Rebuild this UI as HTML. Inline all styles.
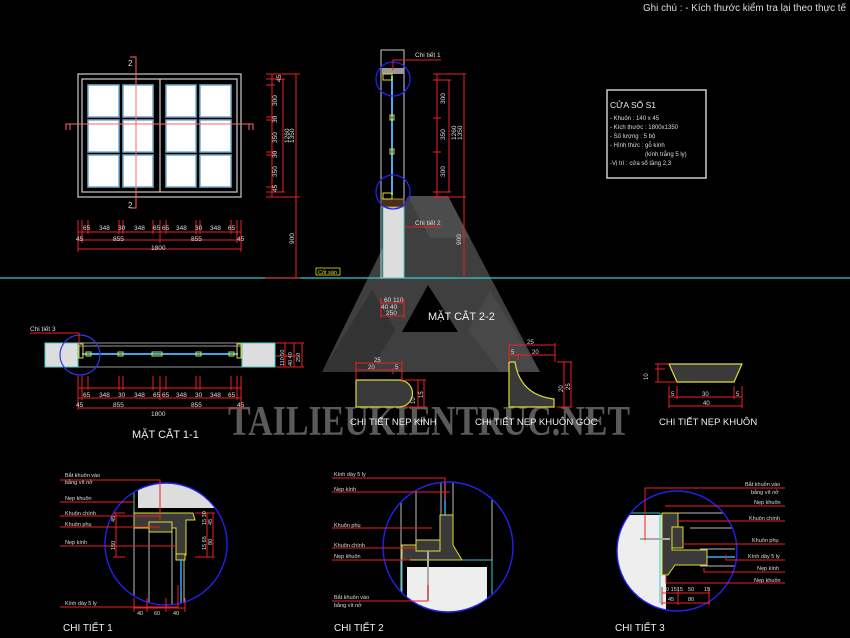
<!DOCTYPE html>
<html><head><meta charset="utf-8"><style>
html,body{margin:0;padding:0;background:#000;}
svg{display:block;font-family:"Liberation Sans",sans-serif;}
</style></head><body>
<svg width="850" height="638" viewBox="0 0 850 638" xmlns="http://www.w3.org/2000/svg">
<rect width="850" height="638" fill="#000"/>

<!-- watermark logo -->
<g opacity="0.85">
<polygon points="408,196 448,196 540,372 322,372" fill="#4a4a4a"/>
<polygon points="408,196 448,196 470,238 430,238" fill="#5a5a5a"/>
<polygon points="322,372 372,290 395,330 370,372" fill="#3c3c3c"/>
<polygon points="490,290 540,372 500,372 468,330" fill="#555"/>
<polygon points="428,285 402,332 458,332" fill="#000"/>
</g>
<text x="228" y="435" style="font-family:'Liberation Serif',serif;font-weight:bold" font-size="42" fill="#5a5a5a" textLength="402" lengthAdjust="spacingAndGlyphs">TAILIEUKIENTRUC.NET</text>

<!-- note -->
<text x="643" y="11" font-size="10" fill="#ddd" textLength="203" lengthAdjust="spacingAndGlyphs">Ghi chú : - Kích thước kiểm tra lại theo thực tế</text>

<!-- ground line -->
<line x1="0" y1="278" x2="850" y2="278" stroke="#3cc" stroke-width="1.2"/>

<!-- ELEVATION -->
<g fill="none" stroke="#ccc" stroke-width="1.2">
<rect x="78" y="74" width="163" height="123"/>
<rect x="82" y="79" width="155" height="113"/>
<line x1="160" y1="79" x2="160" y2="192"/>
</g>
<g fill="#fff" stroke="#7ac" stroke-width="1.5">
<rect x="88" y="85" width="31" height="32"/><rect x="123" y="85" width="30" height="32"/>
<rect x="88" y="120" width="31" height="32"/><rect x="123" y="120" width="30" height="32"/>
<rect x="88" y="155" width="31" height="32"/><rect x="123" y="155" width="30" height="32"/>
<rect x="166" y="85" width="30" height="32"/><rect x="200" y="85" width="31" height="32"/>
<rect x="166" y="120" width="30" height="32"/><rect x="200" y="120" width="31" height="32"/>
<rect x="166" y="155" width="30" height="32"/><rect x="200" y="155" width="31" height="32"/>
</g>
<g stroke="#f66" stroke-width="1" fill="none">
<line x1="66" y1="124" x2="253" y2="124"/>
<polyline points="66,130 66,124 70,124 70,130"/><polyline points="253,130 253,124 249,124 249,130"/>
<line x1="136" y1="57" x2="136" y2="208"/>
<polyline points="130,57 136,57 136,63"/><polyline points="130,208 136,208 136,202"/>
</g>
<text x="128" y="66" font-size="8" fill="#ddd">2</text>
<text x="128" y="208" font-size="8" fill="#ddd">2</text>
<g stroke="#e22" stroke-width="1">
<line x1="78" y1="232" x2="241" y2="232"/><line x1="78" y1="240" x2="241" y2="240"/><line x1="78" y1="249" x2="241" y2="249"/>
<line x1="78" y1="220" x2="78" y2="252"/><line x1="82" y1="220" x2="82" y2="243"/><line x1="88" y1="220" x2="88" y2="234"/>
<line x1="119" y1="220" x2="119" y2="234"/><line x1="123" y1="220" x2="123" y2="234"/><line x1="153" y1="220" x2="153" y2="234"/>
<line x1="160" y1="220" x2="160" y2="243"/><line x1="166" y1="220" x2="166" y2="234"/><line x1="196" y1="220" x2="196" y2="234"/>
<line x1="200" y1="220" x2="200" y2="234"/><line x1="231" y1="220" x2="231" y2="234"/><line x1="237" y1="220" x2="237" y2="243"/><line x1="241" y1="220" x2="241" y2="252"/>
</g>
<g font-size="6.5" fill="#ddd">
<text x="83" y="230">65</text><text x="99" y="230">348</text><text x="118" y="230">30</text><text x="134" y="230">348</text><text x="153" y="230">65</text><text x="162" y="230">65</text><text x="176" y="230">348</text><text x="195" y="230">30</text><text x="210" y="230">348</text><text x="228" y="230">65</text>
<text x="76" y="241">45</text><text x="113" y="241">855</text><text x="191" y="241">855</text><text x="237" y="241">45</text>
<text x="151" y="250">1800</text>
</g>
<g stroke="#e22" stroke-width="1">
<line x1="266" y1="74" x2="300" y2="74"/><line x1="266" y1="79" x2="285" y2="79"/><line x1="266" y1="85" x2="275" y2="85"/>
<line x1="266" y1="117" x2="275" y2="117"/><line x1="266" y1="120" x2="275" y2="120"/><line x1="266" y1="152" x2="275" y2="152"/><line x1="266" y1="155" x2="275" y2="155"/>
<line x1="266" y1="187" x2="275" y2="187"/><line x1="266" y1="192" x2="285" y2="192"/><line x1="266" y1="197" x2="300" y2="197"/>
<line x1="272" y1="74" x2="272" y2="197"/><line x1="283" y1="79" x2="283" y2="192"/><line x1="296" y1="74" x2="296" y2="278"/>
<line x1="265" y1="278" x2="300" y2="278"/>
</g>
<g font-size="6.5" fill="#ddd">
<text transform="translate(281,82) rotate(-90)">45</text><text transform="translate(277,106) rotate(-90)">300</text><text transform="translate(277,123) rotate(-90)">30</text>
<text transform="translate(277,143) rotate(-90)">350</text><text transform="translate(277,158) rotate(-90)">30</text><text transform="translate(277,177) rotate(-90)">350</text>
<text transform="translate(277,192) rotate(-90)">45</text><text transform="translate(289,143) rotate(-90)">1260</text><text transform="translate(294,143) rotate(-90)">1350</text>
<text transform="translate(294,244) rotate(-90)">900</text>
</g>
<rect x="316" y="268" width="24" height="7" fill="none" stroke="#dd3" stroke-width="0.8"/>
<text x="318" y="274" font-size="5.5" fill="#dd3">Cốt sàn</text>

<!-- SECTION 2-2 -->
<rect x="381" y="50" width="23" height="228" fill="none" stroke="#ccc" stroke-width="1"/>
<rect x="383" y="207" width="21" height="71" fill="#ddd" stroke="#5cc"/>
<rect x="381" y="199" width="23" height="8" fill="#4a2e1a" stroke="#a84"/>
<rect x="382" y="68" width="22" height="6" fill="#999"/>
<line x1="392" y1="76" x2="392" y2="195" stroke="#5ae" stroke-width="2"/>
<g fill="none" stroke="#dd3" stroke-width="1">
<rect x="383" y="74" width="9" height="6"/><rect x="383" y="193" width="9" height="6"/><rect x="390" y="115" width="4" height="5"/><rect x="390" y="149" width="4" height="5"/>
</g>
<circle cx="393" cy="79" r="17" fill="none" stroke="#22e" stroke-width="1.3"/>
<circle cx="393" cy="192" r="17" fill="none" stroke="#22e" stroke-width="1.3"/>
<polyline points="393,70 393,60 441,60" fill="none" stroke="#e22"/>
<line x1="405" y1="227" x2="441" y2="227" stroke="#e22"/>
<text x="415" y="57" font-size="6.5" fill="#ddd">Chi tiết 1</text>
<text x="415" y="225" font-size="6.5" fill="#ddd">Chi tiết 2</text>
<g stroke="#e22" stroke-width="1">
<line x1="433" y1="74" x2="466" y2="74"/><line x1="433" y1="197" x2="466" y2="197"/><line x1="433" y1="80" x2="451" y2="80"/><line x1="433" y1="192" x2="451" y2="192"/>
<line x1="433" y1="118" x2="441" y2="118"/><line x1="433" y1="152" x2="441" y2="152"/>
<line x1="437" y1="74" x2="437" y2="197"/><line x1="449" y1="80" x2="449" y2="192"/><line x1="464" y1="74" x2="464" y2="278"/>
<line x1="381" y1="298" x2="381" y2="318"/><line x1="404" y1="298" x2="404" y2="318"/><line x1="381" y1="316" x2="404" y2="316"/><line x1="381" y1="303" x2="404" y2="303"/>
</g>
<g font-size="6.5" fill="#ddd">
<text transform="translate(445,104) rotate(-90)">300</text><text transform="translate(445,140) rotate(-90)">350</text><text transform="translate(445,177) rotate(-90)">300</text>
<text transform="translate(456,140) rotate(-90)">1260</text><text transform="translate(462,140) rotate(-90)">1350</text><text transform="translate(461,245) rotate(-90)">900</text>
<text x="384" y="302">60 110</text><text x="381" y="309">40 40</text><text x="386" y="315">250</text>
</g>
<text x="428" y="320" font-size="11" fill="#eee">MẶT CẮT 2-2</text>

<!-- info box -->
<rect x="607" y="90" width="99" height="88" fill="none" stroke="#ccc" stroke-width="1.5"/>
<text x="610" y="108" font-size="8.5" fill="#eee">CỬA SỔ S1</text>
<g font-size="6" fill="#ddd">
<text x="610" y="120">- Khuôn : 140 x 45</text><text x="610" y="129">- Kích thước : 1800x1350</text><text x="610" y="138">- Số lượng : 5 bộ</text>
<text x="610" y="147">- Hình thức : gỗ kính</text><text x="645" y="156">(kính trắng 5 ly)</text><text x="610" y="165">-Vị trí : cửa sổ tầng 2,3</text>
</g>

<!-- SECTION 1-1 -->
<rect x="45" y="343" width="33" height="24" fill="#ddd" stroke="#5cc"/>
<rect x="242" y="343" width="33" height="24" fill="#ddd" stroke="#5cc"/>
<g stroke="#ccc" stroke-width="0.8"><line x1="78" y1="343" x2="242" y2="343"/><line x1="78" y1="346" x2="242" y2="346"/><line x1="78" y1="367" x2="242" y2="367"/></g>
<line x1="82" y1="354" x2="238" y2="354" stroke="#3ae" stroke-width="2"/>
<g fill="none" stroke="#dd3"><rect x="79" y="344" width="4" height="14"/><rect x="237" y="344" width="4" height="14"/><rect x="86" y="352" width="5" height="4"/><rect x="118" y="352" width="5" height="4"/><rect x="152" y="352" width="10" height="4"/><rect x="196" y="352" width="5" height="4"/><rect x="229" y="352" width="5" height="4"/></g>
<circle cx="80" cy="355" r="20" fill="none" stroke="#33e" stroke-width="1.2"/>
<polyline points="30,333 79,333 79,345" fill="none" stroke="#e22"/>
<text x="30" y="331" font-size="6.5" fill="#ddd">Chi tiết 3</text>
<g stroke="#e22"><line x1="276" y1="343" x2="304" y2="343"/><line x1="276" y1="367" x2="304" y2="367"/><line x1="276" y1="356" x2="296" y2="356"/><line x1="285" y1="343" x2="285" y2="367"/><line x1="294" y1="343" x2="294" y2="367"/><line x1="302" y1="343" x2="302" y2="367"/></g>
<g font-size="5.5" fill="#ddd"><text transform="translate(284,366) rotate(-90)">110 50</text><text transform="translate(292,366) rotate(-90)">40 40</text><text transform="translate(300,362) rotate(-90)">250</text></g>
<g stroke="#e22" stroke-width="1">
<line x1="78" y1="388" x2="241" y2="388"/><line x1="78" y1="398" x2="241" y2="398"/><line x1="78" y1="408" x2="241" y2="408"/>
<line x1="78" y1="376" x2="78" y2="410"/><line x1="82" y1="376" x2="82" y2="400"/><line x1="88" y1="376" x2="88" y2="390"/><line x1="119" y1="376" x2="119" y2="390"/><line x1="123" y1="376" x2="123" y2="390"/><line x1="153" y1="376" x2="153" y2="390"/><line x1="160" y1="376" x2="160" y2="400"/><line x1="166" y1="376" x2="166" y2="390"/><line x1="196" y1="376" x2="196" y2="390"/><line x1="200" y1="376" x2="200" y2="390"/><line x1="231" y1="376" x2="231" y2="390"/><line x1="237" y1="376" x2="237" y2="400"/><line x1="241" y1="376" x2="241" y2="410"/>
</g>
<g font-size="6.5" fill="#ddd">
<text x="83" y="397">65</text><text x="99" y="397">348</text><text x="118" y="397">30</text><text x="134" y="397">348</text><text x="153" y="397">65</text><text x="162" y="397">65</text><text x="176" y="397">348</text><text x="195" y="397">30</text><text x="210" y="397">348</text><text x="228" y="397">65</text>
<text x="76" y="407">45</text><text x="113" y="407">855</text><text x="191" y="407">855</text><text x="237" y="407">45</text><text x="151" y="416">1800</text>
</g>
<text x="132" y="438" font-size="11" fill="#eee">MẶT CẮT 1-1</text>

<!-- profile details -->
<path d="M356,380 H399 A8,8 0 0 1 399,407 H356 Z" fill="#3a3a3a" stroke="#dd3" stroke-width="1.2"/>
<g stroke="#e22"><line x1="356" y1="363" x2="402" y2="363"/><line x1="356" y1="370" x2="402" y2="370"/><line x1="356" y1="361" x2="356" y2="380"/><line x1="402" y1="361" x2="402" y2="383"/><line x1="393" y1="368" x2="393" y2="374"/>
<line x1="405" y1="380" x2="426" y2="380"/><line x1="405" y1="407" x2="426" y2="407"/><line x1="418" y1="380" x2="418" y2="407"/><line x1="424" y1="380" x2="424" y2="407"/></g>
<g font-size="6" fill="#ddd"><text x="374" y="362">25</text><text x="368" y="369">20</text><text x="395" y="369">5</text><text transform="translate(415,404) rotate(-90)">10</text><text transform="translate(423,398) rotate(-90)">15</text></g>
<text x="350" y="425" font-size="9.5" fill="#eee">CHI TIẾT NẸP KÍNH</text>
<path d="M509,362 H515 Q520,395 554,399 V407 H509 Z" fill="#3a3a3a" stroke="#dd3" stroke-width="1.2"/>
<g stroke="#e22"><line x1="509" y1="345" x2="555" y2="345"/><line x1="509" y1="355" x2="555" y2="355"/><line x1="509" y1="343" x2="509" y2="362"/><line x1="555" y1="343" x2="555" y2="362"/><line x1="518" y1="353" x2="518" y2="360"/>
<line x1="557" y1="362" x2="572" y2="362"/><line x1="557" y1="407" x2="572" y2="407"/><line x1="564" y1="362" x2="564" y2="407"/><line x1="571" y1="362" x2="571" y2="407"/></g>
<g font-size="6" fill="#ddd"><text x="527" y="344">25</text><text x="511" y="354">5</text><text x="532" y="354">20</text><text transform="translate(563,392) rotate(-90)">20</text><text transform="translate(570,390) rotate(-90)">25</text></g>
<text x="475" y="425" font-size="9.5" fill="#eee">CHI TIẾT NẸP KHUÔN GÓC</text>
<polygon points="669,364 742,364 734,382 677,382" fill="#3a3a3a" stroke="#dd3" stroke-width="1.2"/>
<g stroke="#e22"><line x1="655" y1="364" x2="669" y2="364"/><line x1="655" y1="382" x2="677" y2="382"/><line x1="655" y1="369" x2="665" y2="369"/><line x1="658" y1="364" x2="658" y2="382"/>
<line x1="669" y1="397" x2="742" y2="397"/><line x1="669" y1="406" x2="742" y2="406"/><line x1="669" y1="386" x2="669" y2="408"/><line x1="742" y1="386" x2="742" y2="408"/><line x1="677" y1="386" x2="677" y2="399"/><line x1="734" y1="386" x2="734" y2="399"/></g>
<g font-size="6" fill="#ddd"><text transform="translate(648,380) rotate(-90)">10</text><text x="671" y="396">5</text><text x="702" y="396">30</text><text x="736" y="396">5</text><text x="703" y="405">40</text></g>
<text x="659" y="425" font-size="9.5" fill="#eee">CHI TIẾT NẸP KHUÔN</text>

<!-- CHI TIET 1 -->
<defs><clipPath id="c1"><circle cx="166" cy="544" r="61"/></clipPath><clipPath id="c2"><circle cx="448" cy="547" r="65"/></clipPath><clipPath id="c3"><circle cx="677" cy="551" r="60"/></clipPath></defs>
<g clip-path="url(#c1)">
<rect x="138" y="478" width="100" height="30" fill="#ddd"/>
<g stroke="#bbb" stroke-width="1"><line x1="134" y1="510" x2="134" y2="610"/><line x1="149" y1="530" x2="149" y2="610"/><line x1="172" y1="530" x2="172" y2="610"/><line x1="184" y1="560" x2="184" y2="610"/></g>
<line x1="134" y1="490" x2="134" y2="510" stroke="#3cc"/>
<path d="M134,513 H193 L195,520 H186 L186,555 H176 L176,528 H134 Z" fill="#3a3a3a" stroke="#dd3"/>
<rect x="149" y="522" width="23" height="10" fill="#3a3a3a" stroke="#dd3"/>
<rect x="176" y="554" width="9" height="6" fill="#3a3a3a" stroke="#dd3"/>
<line x1="181" y1="560" x2="181" y2="610" stroke="#3ae" stroke-width="1.5"/>
</g>
<circle cx="166" cy="544" r="61" fill="none" stroke="#22e" stroke-width="1.4"/>
<g stroke="#e22" fill="none"><polyline points="60,480 160,480 160,520"/><line x1="60" y1="502" x2="135" y2="502"/><line x1="60" y1="516" x2="160" y2="516"/><line x1="60" y1="527" x2="160" y2="527"/><line x1="60" y1="546" x2="178" y2="546"/><polyline points="60,607 178,607 178,585"/>
<line x1="113" y1="513" x2="125" y2="513"/><line x1="113" y1="557" x2="125" y2="557"/><line x1="116" y1="513" x2="116" y2="557"/>
<line x1="195" y1="513" x2="215" y2="513"/><line x1="195" y1="557" x2="215" y2="557"/><line x1="207" y1="513" x2="207" y2="557"/><line x1="213" y1="513" x2="213" y2="557"/>
<line x1="134" y1="608" x2="185" y2="608"/><line x1="134" y1="598" x2="134" y2="612"/><line x1="147" y1="598" x2="147" y2="612"/><line x1="166" y1="598" x2="166" y2="612"/><line x1="185" y1="598" x2="185" y2="612"/></g>
<g font-size="5.5" fill="#ddd"><text x="65" y="477">Bắt khuôn vào</text><text x="65" y="484">bằng vít nở</text><text x="65" y="500">Nẹp khuôn</text><text x="65" y="515">Khuôn chính</text><text x="65" y="526">Khuôn phụ</text><text x="65" y="544">Nẹp kính</text><text x="65" y="605">Kính dày 5 ly</text>
<text x="137" y="615">40</text><text x="154" y="615">60</text><text x="173" y="615">40</text>
<text transform="translate(115,522) rotate(-90)">45</text><text transform="translate(115,550) rotate(-90)">150</text><text transform="translate(206,525) rotate(-90)">15 30</text><text transform="translate(206,550) rotate(-90)">15 65</text><text transform="translate(212,525) rotate(-90)">45</text><text transform="translate(212,545) rotate(-90)">80</text></g>
<text x="63" y="631" font-size="10" fill="#eee">CHI TIẾT 1</text>

<!-- CHI TIET 2 -->
<g clip-path="url(#c2)">
<rect x="407" y="567" width="80" height="50" fill="#eee"/>
<g stroke="#bbb"><line x1="401" y1="480" x2="401" y2="600"/><line x1="416" y1="480" x2="416" y2="540"/><line x1="441" y1="480" x2="441" y2="520"/><line x1="453" y1="480" x2="453" y2="520"/><line x1="492" y1="480" x2="492" y2="600"/></g>
<line x1="445" y1="480" x2="445" y2="520" stroke="#3ae" stroke-width="1.5"/>
<path d="M402,545 H440 V515 H453 V545 L462,560 H402 Z" fill="#3a3a3a" stroke="#dd3"/>
<rect x="416" y="540" width="24" height="11" fill="#3a3a3a" stroke="#dd3"/>
<line x1="428" y1="551" x2="428" y2="600" stroke="#aaa" stroke-width="2"/>
<line x1="402" y1="560" x2="402" y2="600" stroke="#3cc"/><line x1="492" y1="560" x2="492" y2="600" stroke="#3cc"/><line x1="462" y1="560" x2="492" y2="560" stroke="#3cc"/>
</g>
<circle cx="448" cy="547" r="65" fill="none" stroke="#22e" stroke-width="1.4"/>
<g stroke="#e22" fill="none"><polyline points="332,478 445,478 445,500"/><line x1="332" y1="492" x2="450" y2="492"/><line x1="332" y1="528" x2="432" y2="528"/><line x1="332" y1="548" x2="415" y2="548"/><line x1="332" y1="560" x2="410" y2="560"/><polyline points="332,601 428,601 428,585"/></g>
<g font-size="5.5" fill="#ddd"><text x="334" y="476">Kính dày 5 ly</text><text x="334" y="491">Nẹp kính</text><text x="334" y="527">Khuôn phụ</text><text x="334" y="547">Khuôn chính</text><text x="334" y="558">Nẹp khuôn</text><text x="334" y="599">Bắt khuôn vào</text><text x="334" y="607">bằng vít nở</text></g>
<text x="334" y="631" font-size="10" fill="#eee">CHI TIẾT 2</text>

<!-- CHI TIET 3 -->
<g clip-path="url(#c3)">
<rect x="610" y="515" width="56" height="122" fill="#eee"/>
<g stroke="#bbb"><line x1="678" y1="513" x2="735" y2="513"/><line x1="690" y1="528" x2="735" y2="528"/><line x1="700" y1="549" x2="735" y2="549"/><line x1="700" y1="566" x2="735" y2="566"/><line x1="660" y1="603" x2="735" y2="603"/></g>
<line x1="700" y1="557" x2="735" y2="557" stroke="#3ae" stroke-width="1.5"/>
<line x1="610" y1="513" x2="660" y2="513" stroke="#3cc"/><line x1="660" y1="513" x2="660" y2="603" stroke="#3cc"/>
<path d="M662,513 H678 V527 H672 V550 H707 V565 H675 L668,575 H662 Z" fill="#3a3a3a" stroke="#dd3"/>
<rect x="672" y="527" width="11" height="21" fill="#3a3a3a" stroke="#dd3"/>
<line x1="640" y1="539" x2="670" y2="539" stroke="#aaa" stroke-width="2"/>
</g>
<circle cx="677" cy="551" r="60" fill="none" stroke="#22e" stroke-width="1.4"/>
<g stroke="#e22" fill="none"><polyline points="645,540 645,488 785,488"/><line x1="665" y1="506" x2="785" y2="506"/><line x1="678" y1="521" x2="785" y2="521"/><line x1="682" y1="544" x2="785" y2="544"/><polyline points="726,555 726,560 785,560"/><polyline points="704,568 704,572 785,572"/><polyline points="666,575 666,583 785,583"/>
<line x1="662" y1="593" x2="710" y2="593"/><line x1="662" y1="603" x2="710" y2="603"/><line x1="662" y1="587" x2="662" y2="605"/><line x1="678" y1="587" x2="678" y2="605"/><line x1="709" y1="587" x2="709" y2="605"/></g>
<g font-size="5.5" fill="#ddd"><text x="745" y="486">Bắt khuôn vào</text><text x="751" y="494">bằng vít nở</text><text x="754" y="504">Nẹp khuôn</text><text x="749" y="520">Khuôn chính</text><text x="752" y="542">Khuôn phụ</text><text x="748" y="558">Kính dày 5 ly</text><text x="757" y="570">Nẹp kính</text><text x="754" y="582">Nẹp khuôn</text>
<text x="663" y="591">30 1515</text><text x="688" y="591">50</text><text x="704" y="591">15</text><text x="668" y="601">45</text><text x="688" y="601">80</text></g>
<text x="615" y="631" font-size="10" fill="#eee">CHI TIẾT 3</text>
</svg>
</body></html>
